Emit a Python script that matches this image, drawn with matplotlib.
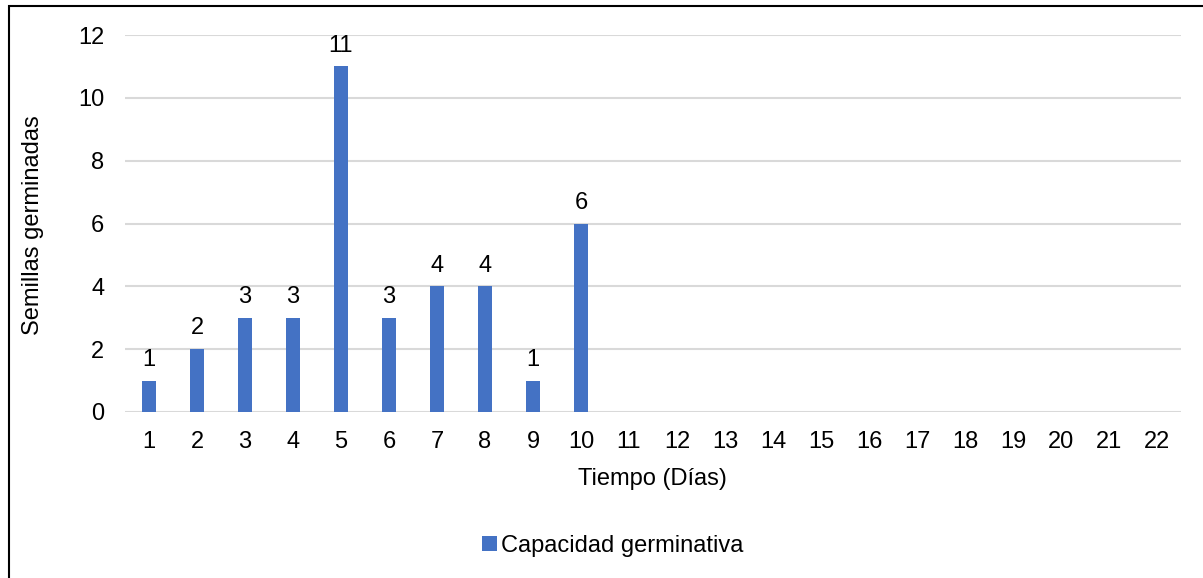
import matplotlib
matplotlib.use("Agg")
import matplotlib.pyplot as plt
from matplotlib.patches import Rectangle
import numpy as np

plt.rcParams['font.family'] = ['Liberation Sans', 'DejaVu Sans']

# Germination counts per day (days 11-22 have no recorded value)
days = list(range(1, 23))
germinated = [1, 2, 3, 3, 11, 3, 4, 4, 1, 6] + [None] * 12
series_name = "Capacidad germinativa"
x_title = "Tiempo (Días)"
y_title = "Semillas germinadas"
y_ticks = [0, 2, 4, 6, 8, 10, 12]

W, H = 1203, 578
fig = plt.figure(figsize=(W / 100, H / 100), dpi=100)
fig.patch.set_facecolor("white")

def px(x0, y0, x1, y1):
    return [x0 / W, 1 - y1 / H, (x1 - x0) / W, (y1 - y0) / H]

ax = fig.add_axes(px(125, 35, 1181, 412))
bar_color = "#4472C4"
fs = 17

xs = [d for d, v in zip(days, germinated) if v is not None]
vs = [v for v in germinated if v is not None]
bars = ax.bar(xs, vs, width=0.3, color=bar_color, zorder=3, label=series_name)
for x, v in zip(xs, vs):
    ax.annotate(str(v), (x, v), xytext=(0, 7), textcoords="offset points",
                ha="center", va="bottom", fontsize=fs, color="#000000")

ax.set_xlim(0.5, 22.5)
ax.set_ylim(0, 12)
ax.set_xticks(days)
ax.set_xticklabels([str(d) for d in days])
ax.set_yticks(y_ticks)
ax.tick_params(axis="both", length=0, labelsize=fs, colors="#000000")
ax.tick_params(axis="y", pad=15)
ax.tick_params(axis="x", pad=14)
ax.grid(axis="y", color="#d9d9d9", linewidth=1.5, zorder=0)
ax.set_axisbelow(True)
for s in ax.spines.values():
    s.set_visible(False)

fig.text(652 / W, 1 - 479 / H, x_title, ha="center", va="center", fontsize=fs)
fig.text(33 / W, 1 - 225 / H, y_title, ha="center", va="center",
         rotation=90, fontsize=fs)

leg = fig.legend(handles=[bars], labels=[series_name], loc="center",
                 bbox_to_anchor=(613 / W, 1 - 546 / H), frameon=False,
                 fontsize=fs, handlelength=0.6, handleheight=0.6,
                 handletextpad=0.2)

# Outer frame of the chart area
fig.patches.append(Rectangle((9 / W, -0.05), 1.2, 1 - 6 / H + 0.05,
                             transform=fig.transFigure, fill=False,
                             edgecolor="black", linewidth=1.5))

fig.savefig("out.png", dpi=100)
